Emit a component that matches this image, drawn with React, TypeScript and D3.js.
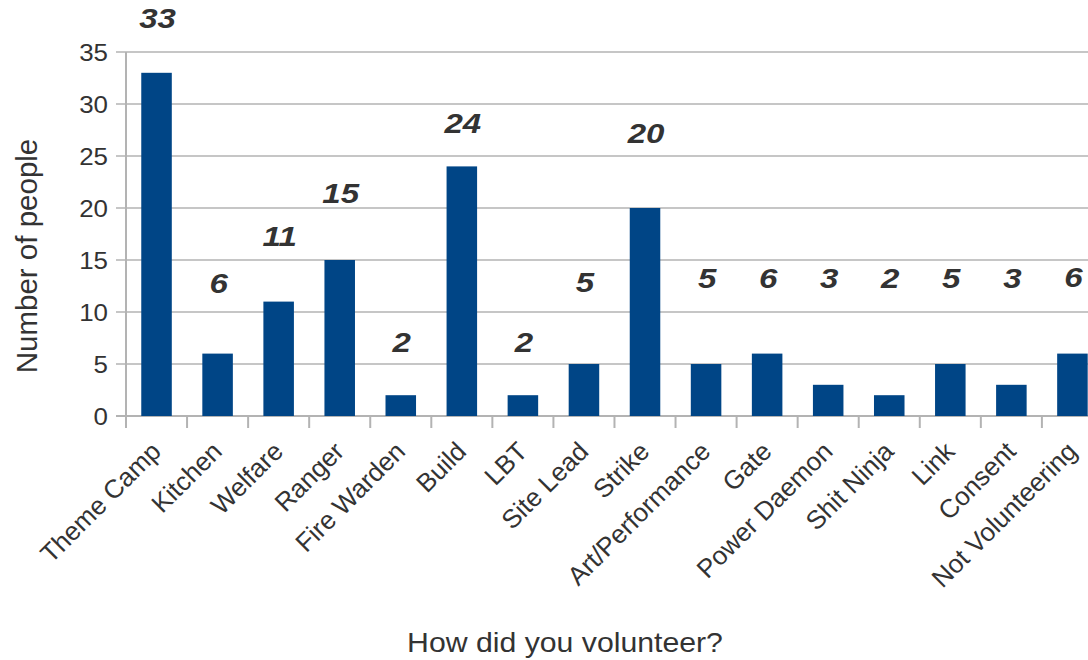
import React, { useEffect, useRef } from "react";
import * as d3 from "d3";

const categories = [
  "Theme Camp", "Kitchen", "Welfare", "Ranger", "Fire Warden", "Build", "LBT", "Site Lead",
  "Strike", "Art/Performance", "Gate", "Power Daemon", "Shit Ninja", "Link", "Consent", "Not Volunteering",
];
const counts = [33, 6, 11, 15, 2, 24, 2, 5, 20, 5, 6, 3, 2, 5, 3, 6];
// value-label anchor heights, in data units (labels were placed by hand in the source chart)
const labelAt = [37.3, 11.8, 16.35, 20.5, 6.15, 27.2, 6.15, 11.9, 26.25, 12.3, 12.3, 12.3, 12.3, 12.3, 12.3, 12.4];
const yTicks = [0, 5, 10, 15, 20, 25, 30, 35];
const yTitle = "Number of people";
const xTitle = "How did you volunteer?";

const W = 1088;
const H = 660;

export default function App() {
  const ref = useRef<SVGSVGElement>(null);

  useEffect(() => {
    const svg = d3.select(ref.current);
    svg.selectAll("*").remove();
    const font = "'Liberation Sans', Arial, sans-serif";
    const grid = "#b3b3b3";
    const text = "#333333";
    const sx = 1.08;

    const plotLeft = 126;
    const step = 61.06;
    const x = d3
      .scaleBand<string>()
      .domain(categories)
      .range([plotLeft, plotLeft + step * categories.length])
      .paddingInner(0.5)
      .paddingOuter(0.25);
    const y = d3.scaleLinear().domain([0, 35]).range([416, 52]);

    // grid lines
    svg
      .append("g")
      .selectAll("line")
      .data(yTicks)
      .join("line")
      .attr("x1", plotLeft - 10)
      .attr("x2", W + 20)
      .attr("y1", (d) => y(d))
      .attr("y2", (d) => y(d))
      .attr("stroke", grid)
      .attr("stroke-width", (d) => (d === 0 ? 2 : 1.3));

    // y tick labels
    svg
      .append("g")
      .selectAll("text")
      .data(yTicks)
      .join("text")
      .attr("transform", (d) => `translate(${plotLeft - 18},${y(d) + 8.5}) scale(${sx},1)`)
      .attr("text-anchor", "end")
      .attr("font-family", font)
      .attr("font-size", 24)
      .attr("fill", text)
      .text((d) => d);

    // y axis line
    svg
      .append("line")
      .attr("x1", plotLeft)
      .attr("x2", plotLeft)
      .attr("y1", y(35))
      .attr("y2", y(0) + 12)
      .attr("stroke", grid)
      .attr("stroke-width", 2);

    // x ticks at band boundaries
    const bounds = d3.range(categories.length + 1).map((i) => plotLeft + i * x.step());
    svg
      .append("g")
      .selectAll("line")
      .data(bounds)
      .join("line")
      .attr("x1", (d) => d)
      .attr("x2", (d) => d)
      .attr("y1", y(0))
      .attr("y2", y(0) + 12)
      .attr("stroke", grid)
      .attr("stroke-width", 2);

    // bars
    svg
      .append("g")
      .selectAll("rect")
      .data(categories)
      .join("rect")
      .attr("x", (d) => x(d)!)
      .attr("width", x.bandwidth())
      .attr("y", (d, i) => y(counts[i]))
      .attr("height", (d, i) => y(0) - y(counts[i]))
      .attr("fill", "#004586");

    // value labels
    svg
      .append("g")
      .selectAll("text")
      .data(categories)
      .join("text")
      .attr(
        "transform",
        (d, i) => `translate(${x(d)! + x.bandwidth() / 2 + 1},${y(labelAt[i])}) scale(1.18,1)`
      )
      .attr("text-anchor", "middle")
      .attr("font-family", font)
      .attr("font-size", 28)
      .attr("font-weight", "bold")
      .attr("font-style", "italic")
      .attr("fill", text)
      .text((d, i) => counts[i]);

    // x category labels
    svg
      .append("g")
      .selectAll("text")
      .data(categories)
      .join("text")
      .attr(
        "transform",
        (d) => `translate(${x(d)! + x.bandwidth() / 2 + 6},${y(0) + 37}) rotate(-45)`
      )
      .attr("text-anchor", "end")
      .attr("font-family", font)
      .attr("font-size", 26)
      .attr("fill", text)
      .text((d) => d);

    // axis titles
    svg
      .append("text")
      .attr("transform", `translate(37,${256}) rotate(-90)`)
      .attr("text-anchor", "middle")
      .attr("font-family", font)
      .attr("font-size", 29.5)
      .attr("fill", text)
      .text(yTitle);

    svg
      .append("text")
      .attr("transform", `translate(565,652) scale(${sx},1)`)
      .attr("text-anchor", "middle")
      .attr("font-family", font)
      .attr("font-size", 28)
      .attr("fill", text)
      .text(xTitle);
  }, []);

  return (
    <svg
      ref={ref}
      width={W}
      height={H}
      style={{ position: "absolute", left: 0, top: 0, background: "#fff" }}
    />
  );
}
